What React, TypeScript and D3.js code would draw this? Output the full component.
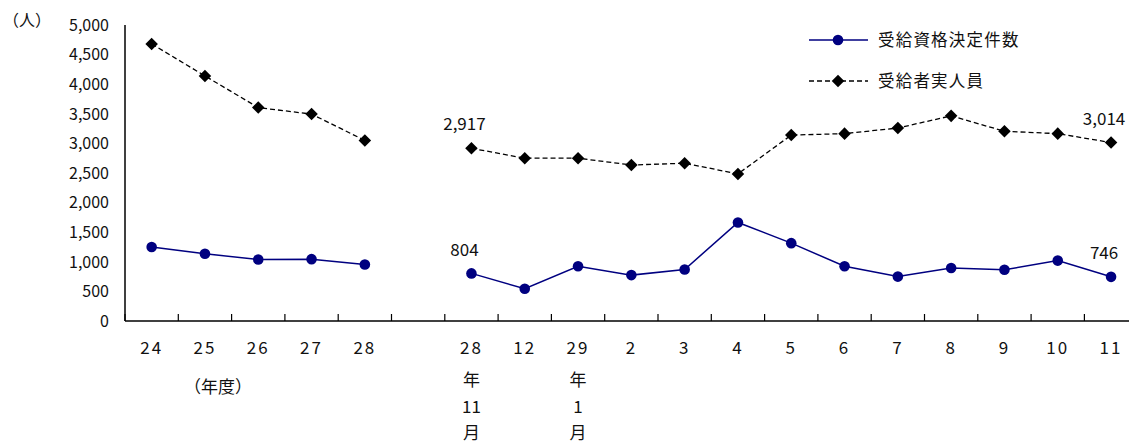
import React from 'react';
import * as d3 from 'd3';

// 年度 and 月 categories (blank slot separates the two parts)
const categories = ['24', '25', '26', '27', '28', '', '28', '12', '29', '2', '3', '4', '5', '6', '7', '8', '9', '10', '11'];
const subLabels: Record<number, string[]> = { 6: ['年', '11', '月'], 8: ['年', '1', '月'] };

const decisions = [1250, 1135, 1040, 1045, 955, null, 804, 545, 925, 775, 870, 1665, 1315, 925, 750, 895, 865, 1020, 746];
const recipients = [4680, 4140, 3605, 3495, 3050, null, 2917, 2750, 2750, 2635, 2665, 2485, 3140, 3165, 3260, 3465, 3205, 3165, 3014];

const yTicks = [0, 500, 1000, 1500, 2000, 2500, 3000, 3500, 4000, 4500, 5000];

const labels = [
  { series: 'decisions', index: 6, text: '804' },
  { series: 'decisions', index: 18, text: '746' },
  { series: 'recipients', index: 6, text: '2,917' },
  { series: 'recipients', index: 18, text: '3,014' },
];

const legendNames = ['受給資格決定件数', '受給者実人員'];

const width = 1129;
const height = 444;
const font = '"Noto Sans CJK JP", "Noto Sans", sans-serif';

export default function App() {
  const left = 125;
  const band = 53.3;
  const x = d3.scaleBand<number>()
    .domain(d3.range(categories.length))
    .range([left, left + band * categories.length])
    .padding(0);
  const y = d3.scaleLinear().domain([0, 5000]).range([321, 25]);
  const cx = (i: number) => x(i)! + x.bandwidth() / 2;

  const line = d3.line<number | null>()
    .defined(d => d !== null)
    .x((_, i) => cx(i))
    .y(d => y(d as number));

  const diamond = d3.symbol().type(d3.symbolDiamond2).size(100)();
  const blue = '#000080';

  return (
    <svg width={width} height={height} style={{ position: 'absolute', left: 0, top: 0, background: '#fff' }} fontFamily={font} fill="#111">
      {/* y axis */}
      <line x1={left} x2={left} y1={y(5000)} y2={y(0)} stroke="#000" strokeWidth={1.5} />
      {yTicks.map(t => (
        <text key={t} x={109} y={y(t)} dy="0.36em" textAnchor="end" fontSize={16}>
          {d3.format(',')(t)}
        </text>
      ))}
      <text x={27} y={20} dy="0.36em" textAnchor="middle" fontSize={16}>（人）</text>

      {/* x axis */}
      <line x1={left} x2={width} y1={y(0)} y2={y(0)} stroke="#000" strokeWidth={1.5} />
      {d3.range(categories.length + 1).map(i => {
        const tx = left + i * x.bandwidth();
        return <line key={i} x1={tx} x2={tx} y1={y(0)} y2={y(0) - 7} stroke="#000" strokeWidth={1.2} />;
      })}
      {categories.map((c, i) => (
        <g key={i}>
          <text x={cx(i)} y={348} dy="0.36em" textAnchor="middle" fontSize={17} letterSpacing={2}>{c}</text>
          {(subLabels[i] || []).map((s, j) => (
            <text key={j} x={cx(i)} y={380 + j * 26.5} dy="0.36em" textAnchor="middle" fontSize={17}>{s}</text>
          ))}
        </g>
      ))}
      <text x={218} y={387} dy="0.36em" textAnchor="middle" fontSize={17}>（年度）</text>

      {/* recipients */}
      <path d={line(recipients)!} fill="none" stroke="#000" strokeWidth={1.3} strokeDasharray="5,3" />
      {recipients.map((v, i) => v === null ? null : (
        <path key={i} d={diamond} transform={`translate(${cx(i)},${y(v)})`} fill="#000" />
      ))}

      {/* decisions */}
      <path d={line(decisions)!} fill="none" stroke={blue} strokeWidth={1.5} />
      {decisions.map((v, i) => v === null ? null : (
        <circle key={i} cx={cx(i)} cy={y(v)} r={5.3} fill={blue} />
      ))}

      {labels.map((l, k) => {
        const v = (l.series === 'decisions' ? decisions : recipients)[l.index] as number;
        return (
          <text key={k} x={cx(l.index) - 7} y={y(v) - 24} dy="0.36em" textAnchor="middle" fontSize={17}>{l.text}</text>
        );
      })}

      {/* legend */}
      <g>
        <line x1={809} x2={868} y1={40} y2={40} stroke={blue} strokeWidth={1.5} />
        <circle cx={838} cy={40} r={5.3} fill={blue} />
        <text x={878} y={40} dy="0.36em" fontSize={16.5} letterSpacing={1.2}>{legendNames[0]}</text>
        <line x1={809} x2={868} y1={81} y2={81} stroke="#000" strokeWidth={1.3} strokeDasharray="5,3" />
        <path d={diamond} transform="translate(838,81)" fill="#000" />
        <text x={878} y={81} dy="0.36em" fontSize={16.5} letterSpacing={1.2}>{legendNames[1]}</text>
      </g>
    </svg>
  );
}
